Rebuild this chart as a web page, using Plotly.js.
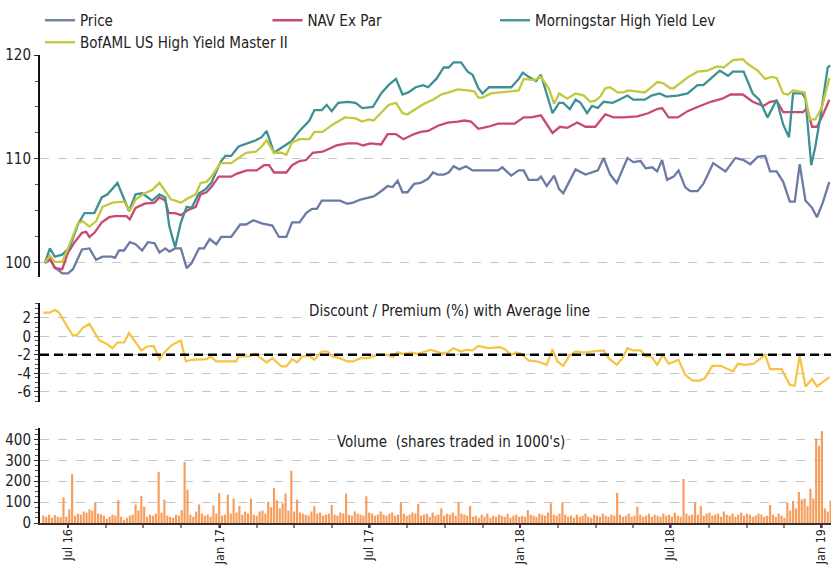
<!DOCTYPE html>
<html><head><meta charset="utf-8">
<script src="https://cdn.plot.ly/plotly-3.0.1.min.js"></script>
<style>html,body{margin:0;padding:0;background:#fff}#chart{width:831px;height:565px}</style>
</head><body><div id="chart"></div>
<script>
// ---------- DATA ----------
const priceDates = ['2016-06-03','2016-06-09','2016-06-15','2016-06-24','2016-07-01','2016-07-07','2016-07-18','2016-07-27','2016-08-04','2016-08-12','2016-08-23','2016-08-27','2016-09-01','2016-09-07','2016-09-14','2016-09-21','2016-09-29','2016-10-06','2016-10-14','2016-10-20','2016-10-27','2016-11-01','2016-11-08','2016-11-15','2016-11-22','2016-11-28','2016-12-07','2016-12-13','2016-12-20','2016-12-28',
'2017-01-03','2017-01-15','2017-01-26','2017-02-02','2017-02-11','2017-02-21','2017-03-06','2017-03-14','2017-03-23','2017-03-30','2017-04-08','2017-04-16','2017-04-23','2017-04-29','2017-05-05','2017-05-27','2017-06-05','2017-06-12','2017-06-21','2017-06-30',
'2017-07-07','2017-07-16','2017-07-24','2017-07-30','2017-08-05','2017-08-11','2017-08-17','2017-08-25','2017-09-02','2017-09-11','2017-09-17','2017-09-23','2017-09-30','2017-10-06','2017-10-12','2017-10-19','2017-10-27','2017-11-04','2017-12-05','2017-12-10','2017-12-21','2017-12-30',
'2018-01-05','2018-01-11','2018-01-22','2018-01-26','2018-02-02','2018-02-11','2018-02-17','2018-02-22','2018-03-09','2018-03-21','2018-04-05','2018-04-12','2018-04-20','2018-04-28','2018-05-11','2018-05-18','2018-05-27','2018-06-02','2018-06-10','2018-06-16','2018-06-22','2018-06-28',
'2018-07-06','2018-07-12','2018-07-20','2018-07-26','2018-08-04','2018-08-11','2018-08-23','2018-09-07','2018-09-19','2018-09-29','2018-10-07','2018-10-16','2018-10-25','2018-10-31','2018-11-08','2018-11-16','2018-11-24','2018-11-30','2018-12-06','2018-12-13','2018-12-21','2018-12-27',
'2019-01-03','2019-01-11'];
const priceVals = [100.0,100.3,99.6,99.0,99.0,99.4,101.3,101.4,100.3,100.6,100.6,100.5,101.2,101.2,102.0,101.8,101.2,102.0,101.9,101.0,101.4,101.1,101.4,101.4,99.5,100.0,101.4,101.4,102.3,101.8,
102.5,102.5,103.7,103.7,104.1,103.8,103.6,102.5,102.5,103.9,103.9,104.8,105.2,105.2,106.0,106.0,105.7,105.8,106.1,106.3,
106.4,106.9,107.4,107.3,107.9,106.8,106.8,107.6,107.7,108.1,108.7,108.5,108.5,108.7,109.3,109.0,109.3,108.9,108.9,109.2,108.4,108.9,
108.9,108.0,108.0,108.3,107.4,108.4,107.1,106.7,109.0,108.5,108.9,110.1,108.5,107.7,110.1,109.7,109.8,109.1,109.2,108.8,109.9,108.0,
108.3,108.9,107.3,106.9,106.9,107.6,109.6,108.8,110.1,109.9,109.5,110.2,110.3,108.8,108.8,107.8,105.9,105.9,109.5,106.0,105.3,104.4,
105.8,107.8];

const navDates = ['2016-06-03','2016-06-09','2016-06-15','2016-06-24','2016-07-01','2016-07-09','2016-07-18','2016-07-23','2016-07-27','2016-08-02','2016-08-11','2016-08-20','2016-08-27','2016-09-10','2016-09-14','2016-09-21','2016-10-02','2016-10-14','2016-10-20','2016-10-27','2016-10-31','2016-11-08','2016-11-15','2016-11-24','2016-12-03','2016-12-09','2016-12-16','2016-12-22','2016-12-31',
'2017-01-15','2017-01-22','2017-02-03','2017-02-15','2017-02-24','2017-03-02','2017-03-08','2017-03-23','2017-03-30','2017-04-08','2017-04-16','2017-04-24','2017-05-06','2017-05-23','2017-06-05','2017-06-17','2017-06-24',
'2017-07-03','2017-07-16','2017-07-24','2017-08-03','2017-08-12','2017-08-25','2017-09-02','2017-09-11','2017-09-23','2017-10-05','2017-10-17','2017-10-25','2017-11-02','2017-11-11','2017-11-23','2017-12-05','2017-12-25',
'2018-01-05','2018-01-14','2018-01-22','2018-01-26','2018-02-09','2018-02-18','2018-02-27','2018-03-11','2018-03-21','2018-04-02','2018-04-14','2018-04-24','2018-05-06','2018-05-23','2018-06-05','2018-06-16','2018-06-22','2018-06-30',
'2018-07-11','2018-07-23','2018-08-04','2018-08-20','2018-09-03','2018-09-13','2018-09-28','2018-10-10','2018-10-23','2018-10-31','2018-11-08','2018-11-16','2018-12-10','2018-12-15','2018-12-21','2018-12-27',
'2019-01-03','2019-01-11'];
const navVals = [100.0,100.5,99.5,99.4,101.0,102.0,102.9,103.0,102.5,102.9,103.9,104.4,104.5,104.5,104.2,105.3,105.7,105.8,106.3,106.0,104.8,104.8,104.6,105.1,105.4,106.6,106.8,107.3,108.3,
108.3,108.6,108.9,108.9,109.4,109.4,108.7,108.7,109.4,109.8,109.9,110.6,110.7,111.3,111.5,111.5,111.3,
111.5,111.4,112.4,112.4,111.9,112.4,112.6,112.7,113.2,113.5,113.6,113.7,113.6,112.9,113.1,113.4,113.4,
114.0,114.0,114.1,114.2,112.5,113.1,113.0,113.5,113.1,113.1,114.3,114.0,114.0,114.1,114.4,114.8,114.9,114.0,
114.0,114.6,115.0,115.5,115.8,116.2,116.2,115.5,115.1,115.5,115.6,114.5,114.5,114.9,113.1,113.1,
114.2,115.7];

const msDates = ['2016-06-03','2016-06-09','2016-06-15','2016-06-24','2016-07-03','2016-07-13','2016-07-21','2016-08-02','2016-08-11','2016-08-18','2016-08-30','2016-09-13','2016-09-21','2016-09-29','2016-10-11','2016-10-20','2016-10-27','2016-11-01','2016-11-08','2016-11-15','2016-11-22','2016-11-28','2016-12-07','2016-12-15','2016-12-22',
'2017-01-02','2017-01-08','2017-01-15','2017-01-24','2017-02-03','2017-02-14','2017-02-21','2017-02-27','2017-03-08','2017-03-20','2017-03-29','2017-04-08','2017-04-20','2017-04-26','2017-05-05','2017-05-11','2017-05-17','2017-05-25','2017-06-05','2017-06-15','2017-06-23',
'2017-07-06','2017-07-16','2017-07-25','2017-08-03','2017-08-11','2017-08-18','2017-08-27','2017-09-05','2017-09-11','2017-09-21','2017-09-30','2017-10-06','2017-10-12','2017-10-21','2017-10-29','2017-11-04','2017-11-11','2017-11-16','2017-11-24','2017-12-21','2017-12-30',
'2018-01-04','2018-01-11','2018-01-20','2018-01-26','2018-02-02','2018-02-09','2018-02-17','2018-02-22','2018-03-02','2018-03-09','2018-03-15','2018-03-23','2018-03-29','2018-04-05','2018-04-12','2018-04-23','2018-05-01','2018-05-11','2018-05-18','2018-06-01','2018-06-09','2018-06-19','2018-06-27',
'2018-07-11','2018-07-23','2018-08-04','2018-08-11','2018-08-22','2018-08-31','2018-09-10','2018-09-16','2018-09-29','2018-10-10','2018-10-18','2018-10-28','2018-11-08','2018-11-16','2018-11-23','2018-11-28','2018-12-09','2018-12-13','2018-12-20','2018-12-25','2018-12-31',
'2019-01-09','2019-01-12'];
const msVals = [100.0,101.4,100.6,100.8,101.5,103.7,104.8,104.8,106.3,106.6,107.7,105.0,106.6,106.7,106.0,106.6,106.3,103.5,101.5,103.9,105.4,105.3,106.7,107.1,107.7,
109.7,110.3,110.3,111.2,111.5,111.8,112.1,112.7,110.6,111.2,111.7,112.7,113.7,114.7,114.7,115.2,114.6,115.4,115.5,115.4,114.9,
115.0,116.3,117.1,117.7,116.2,116.4,116.9,117.1,116.9,117.7,118.8,118.8,119.3,119.3,118.4,118.1,116.8,116.3,116.9,116.9,117.7,
118.3,117.9,117.5,118.1,116.3,114.4,115.4,115.4,114.8,115.7,115.4,114.4,115.1,114.9,115.5,115.4,115.7,116.1,115.7,115.7,116.1,116.3,116.0,
116.1,116.3,117.1,117.1,117.9,118.5,118.0,118.4,118.4,116.3,115.7,114.0,115.7,113.3,112.1,116.3,116.3,115.8,109.4,111.2,114.0,
118.8,119.0];

const bofDates = ['2016-06-03','2016-06-09','2016-06-15','2016-06-24','2016-07-03','2016-07-13','2016-07-19','2016-07-27','2016-08-04','2016-08-12','2016-08-24','2016-09-07','2016-09-14','2016-09-21','2016-10-02','2016-10-11','2016-10-20','2016-10-28','2016-11-03','2016-11-08','2016-11-15','2016-11-23','2016-12-03','2016-12-09','2016-12-16','2016-12-22',
'2017-01-02','2017-01-15','2017-01-24','2017-02-02','2017-02-14','2017-02-21','2017-02-27','2017-03-08','2017-03-17','2017-03-23','2017-03-30','2017-04-08','2017-04-20','2017-04-26','2017-05-06','2017-05-18','2017-06-02','2017-06-15','2017-06-23',
'2017-07-01','2017-07-07','2017-07-16','2017-07-25','2017-08-03','2017-08-11','2017-08-17','2017-08-30','2017-09-06','2017-09-17','2017-09-27','2017-10-06','2017-10-17','2017-10-29','2017-11-06','2017-11-11','2017-11-16','2017-11-26','2017-12-08','2017-12-30',
'2018-01-05','2018-01-18','2018-01-26','2018-02-05','2018-02-11','2018-02-17','2018-02-27','2018-03-09','2018-03-19','2018-03-27','2018-04-02','2018-04-08','2018-04-14','2018-04-20','2018-04-29','2018-05-06','2018-05-12','2018-06-01','2018-06-09','2018-06-16','2018-06-23',
'2018-07-02','2018-07-06','2018-07-14','2018-07-24','2018-08-04','2018-08-16','2018-08-28','2018-09-05','2018-09-16','2018-09-28','2018-10-03','2018-10-16','2018-10-25','2018-11-02','2018-11-08','2018-11-16','2018-11-22','2018-11-28','2018-12-12','2018-12-18','2018-12-25',
'2019-01-02','2019-01-11'];
const bofVals = [100.0,100.7,100.1,100.1,101.8,103.8,104.0,103.5,104.0,105.4,105.8,105.9,105.0,106.1,106.7,107.0,107.7,106.8,106.1,106.0,105.8,106.2,106.6,107.7,107.8,108.3,
109.6,109.6,110.1,110.6,110.7,111.2,111.8,110.6,110.6,110.4,111.6,111.9,111.9,112.6,112.6,113.3,114.0,113.9,113.6,
113.8,113.7,114.5,115.2,115.4,114.4,114.3,115.0,115.3,115.7,116.2,116.4,116.7,116.6,116.5,115.9,115.9,116.3,116.4,116.6,
117.7,117.6,117.9,116.7,115.3,116.3,115.8,116.3,116.1,115.5,115.6,116.0,116.8,116.9,116.4,116.4,116.6,116.4,116.9,117.4,117.3,
116.8,116.8,117.3,117.9,118.4,118.5,118.9,118.8,119.5,119.6,119.2,118.5,117.7,117.9,117.8,116.3,116.2,116.6,116.4,113.8,113.8,
115.0,117.8];

const discDates = ['2016-06-01','2016-06-09','2016-06-15','2016-06-20','2016-06-30','2016-07-07','2016-07-12','2016-07-19','2016-07-27','2016-08-02','2016-08-08','2016-08-17','2016-08-24','2016-08-30','2016-09-07','2016-09-13','2016-09-21','2016-09-28','2016-10-05','2016-10-13','2016-10-20','2016-10-26','2016-11-03','2016-11-08','2016-11-15','2016-11-21','2016-11-28','2016-12-07','2016-12-16','2016-12-21','2016-12-28',
'2017-01-21','2017-01-24','2017-02-05','2017-02-14','2017-02-20','2017-02-27','2017-03-06','2017-03-17','2017-03-23','2017-03-30','2017-04-05','2017-04-11','2017-04-20','2017-04-26','2017-05-05','2017-05-12','2017-05-18','2017-05-27','2017-06-05','2017-06-12','2017-06-21','2017-06-30',
'2017-07-12','2017-07-24','2017-07-30','2017-08-05','2017-08-12','2017-08-21','2017-08-30','2017-09-14','2017-09-27','2017-10-05','2017-10-12','2017-10-21','2017-10-27','2017-11-04','2017-11-11','2017-11-23','2017-12-07','2017-12-13','2017-12-21','2017-12-27',
'2018-01-02','2018-01-11','2018-01-22','2018-02-02','2018-02-09','2018-02-15','2018-02-22','2018-03-01','2018-03-09','2018-03-19','2018-03-30','2018-04-12','2018-04-18','2018-04-28','2018-05-05','2018-05-11','2018-05-18','2018-05-27','2018-06-02','2018-06-09','2018-06-16','2018-06-23','2018-06-30',
'2018-07-12','2018-07-20','2018-07-29','2018-08-07','2018-08-13','2018-08-22','2018-09-01','2018-09-16','2018-09-22','2018-10-01','2018-10-11','2018-10-25','2018-10-31','2018-11-14','2018-11-24','2018-11-30','2018-12-06','2018-12-13','2018-12-21','2018-12-27',
'2019-01-03','2019-01-11'];
const discVals = [2.57,2.57,2.86,2.57,1.06,0.05,0.16,0.92,1.35,0.52,-0.45,-0.81,-1.28,-0.67,-0.67,0.34,-0.67,-1.53,-1.10,-1.03,-2.47,-1.75,-1.03,-0.74,-0.45,-2.72,-2.54,-2.47,-2.47,-2.18,-2.72,
-2.72,-2.18,-2.18,-1.89,-2.36,-2.83,-2.36,-3.26,-3.26,-2.47,-2.83,-2.18,-2.11,-2.54,-1.64,-1.64,-2.18,-2.36,-2.72,-2.72,-2.36,-2.36,
-2.0,-2.0,-2.25,-1.71,-1.89,-1.75,-1.89,-1.46,-1.82,-1.75,-1.28,-1.64,-1.46,-1.53,-1.03,-1.28,-1.17,-1.39,-2.0,-1.75,
-1.89,-2.62,-2.72,-3.08,-1.39,-2.72,-3.19,-2.18,-1.64,-1.75,-1.64,-1.53,-2.36,-3.08,-2.36,-1.28,-1.53,-1.53,-2.18,-2.18,-3.08,-2.0,-2.97,
-2.54,-4.16,-4.78,-4.78,-4.52,-3.19,-3.19,-3.80,-2.97,-3.08,-2.97,-2.0,-3.55,-3.55,-5.24,-5.35,-2.11,-5.42,-4.63,-5.42,
-4.99,-4.41];

const avgDates = ['2016-05-28','2019-01-13'];
const avgVals = [-2.0,-2.0];

// volume (1000's of shares), one bar every 3.5 days starting 2016-06-01
const volStart = '2016-06-01';
const volVals = [35,30,40,25,38,30,28,122,30,66,
234,35,45,40,55,50,66,60,97,45,
42,35,20,30,40,35,109,30,15,25,
35,40,89,60,130,78,30,40,35,45,
245,50,112,35,30,25,40,35,62,292,
160,40,30,55,89,45,35,40,30,84,
45,144,35,40,136,45,117,50,81,40,
55,45,117,40,35,55,60,45,102,75,
167,109,70,94,141,60,250,55,112,50,
45,40,35,55,81,45,50,35,40,45,
86,40,35,50,45,141,40,35,55,45,
40,35,128,50,45,35,40,55,40,35,
45,50,35,40,97,45,35,40,50,45,
91,35,40,45,30,50,35,40,70,35,
45,40,50,35,97,45,40,35,81,30,
35,25,40,30,45,25,35,30,40,35,
30,45,25,35,40,30,35,30,62,40,
35,30,45,40,35,50,94,40,35,45,
97,40,30,35,25,40,30,35,45,30,
25,40,35,30,45,35,30,40,35,144,
40,30,35,45,30,35,78,40,30,35,
45,30,40,35,30,45,35,40,30,50,
35,30,211,45,35,40,97,40,81,35,
45,50,35,40,45,30,55,40,35,45,
30,40,50,35,45,40,30,35,45,40,
30,35,86,40,30,45,35,25,97,60,
106,70,148,112,117,80,164,117,406,370,
440,70,55,106];

const seriesNames = ['Price','NAV Ex Par','Morningstar High Yield Lev','BofAML US High Yield Master II'];
const seriesColors = ['#6b7ba3','#c9496f','#3d9195','#c4c83e'];
const seriesLegend = ['legend','legend2','legend3','legend4'];
const panelTitles = ['Discount / Premium (%) with Average line',"Volume  (shares traded in 1000's)"];
const yTicks1 = [100,110,120];
const yTicks2 = [2,0,-2,-4,-6];
const yTickText2 = ['2','0','-2','-4','-6'];
const yTicks3 = [0,100,200,300,400];

// ---------- CHART ----------
const FONT = "'Liberation Sans Narrow','Arial Narrow','DejaVu Sans Condensed',sans-serif";
const H = 565, W = 831;
const dom = (top, bottom) => [1 - bottom / H, 1 - top / H];
const DAY = 86400000;

const lineSets = [[priceDates, priceVals],[navDates, navVals],[msDates, msVals],[bofDates, bofVals]];
const traces = lineSets.map((s, i) => ({
  type: 'scatter', mode: 'lines', x: s[0], y: s[1], name: seriesNames[i], legend: seriesLegend[i],
  xaxis: 'x', yaxis: 'y', line: {color: seriesColors[i], width: 2.3}, hoverinfo: 'skip'
}));
traces.push({type:'scatter', mode:'lines', x: discDates, y: discVals, xaxis:'x', yaxis:'y2', showlegend:false,
  line:{color:'#f6c343', width:2.2}, hoverinfo:'skip'});
traces.push({type:'scatter', mode:'lines', x: avgDates, y: avgVals, xaxis:'x', yaxis:'y2', showlegend:false,
  line:{color:'#000000', width:2.4, dash:'9px,5px'}, hoverinfo:'skip'});
traces.push({type:'bar', x0: volStart, dx: 3.5*DAY, y: volVals, xaxis:'x', yaxis:'y3', showlegend:false,
  marker:{color:'#f79d5c', line:{width:0}}, hoverinfo:'skip'});

const gridCommon = {showgrid:true, gridcolor:'#c6c6c6', griddash:'dash', gridwidth:1, zeroline:false,
  showline:true, linecolor:'#111', linewidth:2, ticks:'outside', ticklen:4, tickcolor:'#333',
  tickfont:{family:FONT, size:15, color:'#222'}, fixedrange:true, automargin:false};

const legendBase = {orientation:'h', xanchor:'left', yanchor:'top', font:{family:FONT, size:15, color:'#222'},
  bgcolor:'rgba(0,0,0,0)', itemwidth:30, tracegroupgap:0};

const layout = {
  width: W, height: H,
  margin: {l:40, r:0, t:0, b:0},
  paper_bgcolor:'#fff', plot_bgcolor:'#fff',
  font:{family:FONT, size:15, color:'#222'},
  showlegend:true,
  bargap:0.25,
  legend:  Object.assign({}, legendBase, {x:0, y:1-4/H}),
  legend2: Object.assign({}, legendBase, {x:239/W, y:1-4/H}),
  legend3: Object.assign({}, legendBase, {x:478/W, y:1-4/H}),
  legend4: Object.assign({}, legendBase, {x:0, y:1-26/H}),
  xaxis: {type:'date', anchor:'y3', range:['2016-05-28','2019-01-13'],
    tickformat:'%b %y', dtick:'M6', tick0:'2016-07-01', tickangle:-90,
    ticks:'outside', ticklen:3, tickwidth:2, tickcolor:'#5b2d6b', ticklabelstandoff:-4,
    showline:true, linecolor:'#3b3030', linewidth:2, showgrid:false, zeroline:false,
    tickfont:{family:FONT, size:12.5, color:'#222'}, fixedrange:true, automargin:false,
    minor:{ticks:'outside', ticklen:3, tickcolor:'#888', dtick:45.75*DAY, tick0:'2016-07-01', showgrid:false}},
  yaxis: Object.assign({}, gridCommon, {domain: dom(55,277), range:[98.65,120], tickvals: yTicks1,
    anchor:'x', minor:{ticks:'outside', ticklen:3, dtick:2.5, tickcolor:'#555', showgrid:false}}),
  yaxis2: Object.assign({}, gridCommon, {domain: dom(303,402), range:[-7.1,3.6], tickvals: yTicks2, ticktext: yTickText2,
    anchor:'x', minor:{ticks:'outside', ticklen:3, dtick:0.5, tickcolor:'#555', showgrid:false}}),
  yaxis3: Object.assign({}, gridCommon, {domain: dom(428,523), range:[0,455], tickvals: yTicks3,
    anchor:'x', minor:{ticks:'outside', ticklen:3, dtick:25, tickcolor:'#555', showgrid:false}}),
  annotations: [
    {text: panelTitles[0], xref:'paper', yref:'paper', x:430/W, y:1-311/H, xanchor:'center', yanchor:'middle',
     showarrow:false, bgcolor:'#fff', font:{family:FONT, size:15, color:'#222'}},
    {text: panelTitles[1], xref:'paper', yref:'paper', x:432/W, y:1-442/H, xanchor:'center', yanchor:'middle',
     showarrow:false, bgcolor:'#fff', font:{family:FONT, size:15, color:'#222'}}
  ]
};

Plotly.newPlot('chart', traces, layout, {displayModeBar:false, staticPlot:true});
</script></body></html>
